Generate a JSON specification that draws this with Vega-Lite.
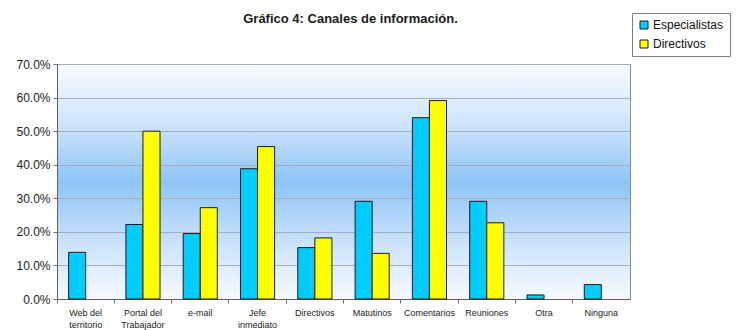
{
  "$schema": "https://vega.github.io/schema/vega-lite/v6.json",
  "width": 573,
  "height": 235,
  "autosize": {"type": "none"},
  "padding": {"left": 57, "top": 64, "right": 107, "bottom": 31},
  "background": "white",
  "title": {
    "text": "Gráfico 4: Canales de información.",
    "font": "Liberation Sans",
    "fontSize": 13,
    "fontWeight": "bold",
    "color": "#1a1a1a",
    "anchor": "middle",
    "baseline": "alphabetic",
    "dx": 7,
    "offset": -23
  },
  "config": {
    "view": {
      "stroke": "#8c8c8c",
      "strokeWidth": 1,
      "fill": {
        "gradient": "linear",
        "x1": 0, "y1": 0, "x2": 0, "y2": 1,
        "stops": [
          {"offset": 0, "color": "#f6faff"},
          {"offset": 0.25, "color": "#cfe5fb"},
          {"offset": 0.5, "color": "#8ec4f6"},
          {"offset": 0.78, "color": "#cfe5fb"},
          {"offset": 1, "color": "#f6faff"}
        ]
      }
    },
    "axis": {
      "labelFont": "Liberation Sans",
      "labelColor": "#222222",
      "domainColor": "#707070",
      "tickColor": "#707070",
      "gridColor": "#a3afbd",
      "title": null
    }
  },
  "data": {
    "values": [
      {"canal": "Web del|territorio", "grupo": "Especialistas", "valor": 0.139},
      {"canal": "Web del|territorio", "grupo": "Directivos", "valor": 0},
      {"canal": "Portal del|Trabajador", "grupo": "Especialistas", "valor": 0.222},
      {"canal": "Portal del|Trabajador", "grupo": "Directivos", "valor": 0.5},
      {"canal": "e-mail", "grupo": "Especialistas", "valor": 0.195},
      {"canal": "e-mail", "grupo": "Directivos", "valor": 0.272},
      {"canal": "Jefe|inmediato", "grupo": "Especialistas", "valor": 0.388},
      {"canal": "Jefe|inmediato", "grupo": "Directivos", "valor": 0.454},
      {"canal": "Directivos", "grupo": "Especialistas", "valor": 0.153},
      {"canal": "Directivos", "grupo": "Directivos", "valor": 0.182},
      {"canal": "Matutinos", "grupo": "Especialistas", "valor": 0.291},
      {"canal": "Matutinos", "grupo": "Directivos", "valor": 0.136},
      {"canal": "Comentarios", "grupo": "Especialistas", "valor": 0.54},
      {"canal": "Comentarios", "grupo": "Directivos", "valor": 0.591},
      {"canal": "Reuniones", "grupo": "Especialistas", "valor": 0.291},
      {"canal": "Reuniones", "grupo": "Directivos", "valor": 0.227},
      {"canal": "Otra", "grupo": "Especialistas", "valor": 0.012},
      {"canal": "Otra", "grupo": "Directivos", "valor": 0},
      {"canal": "Ninguna", "grupo": "Especialistas", "valor": 0.043},
      {"canal": "Ninguna", "grupo": "Directivos", "valor": 0}
    ]
  },
  "mark": {"type": "bar", "stroke": "#1a1a1a", "strokeWidth": 1},
  "encoding": {
    "x": {
      "field": "canal",
      "type": "nominal",
      "sort": null,
      "scale": {"paddingInner": 0, "paddingOuter": 0},
      "axis": {
        "labelAngle": 0,
        "labelExpr": "split(datum.label, '|')",
        "labelFontSize": 9,
        "labelLineHeight": 12,
        "labelPadding": 5,
        "bandPosition": 0,
        "tickSize": 4,
        "domainColor": "#606060"
      }
    },
    "xOffset": {
      "field": "grupo",
      "sort": ["Especialistas", "Directivos"],
      "scale": {"paddingInner": 0, "paddingOuter": 0.68}
    },
    "y": {
      "field": "valor",
      "type": "quantitative",
      "scale": {"domain": [0, 0.7], "nice": false},
      "axis": {
        "format": ".1%",
        "values": [0, 0.1, 0.2, 0.3, 0.4, 0.5, 0.6, 0.7],
        "labelFontSize": 12,
        "labelPadding": 3,
        "tickSize": 4,
        "domainColor": "#606060"
      }
    },
    "strokeOpacity": {
      "condition": {"test": "datum.valor == 0", "value": 0},
      "value": 1
    },
    "color": {
      "field": "grupo",
      "type": "nominal",
      "scale": {"domain": ["Especialistas", "Directivos"], "range": ["#00ccff", "#ffff00"]},
      "legend": {
        "title": null,
        "orient": "none",
        "legendX": 575,
        "legendY": -51,
        "symbolType": "square",
        "symbolSize": 64,
        "symbolStrokeColor": "#1a1a1a",
        "symbolStrokeWidth": 1,
        "labelFont": "Liberation Sans",
        "labelFontSize": 12,
        "labelColor": "#111111",
        "labelOffset": 3,
        "rowPadding": 7,
        "padding": 6,
        "strokeColor": "#808080",
        "fillColor": "white"
      }
    }
  }
}
